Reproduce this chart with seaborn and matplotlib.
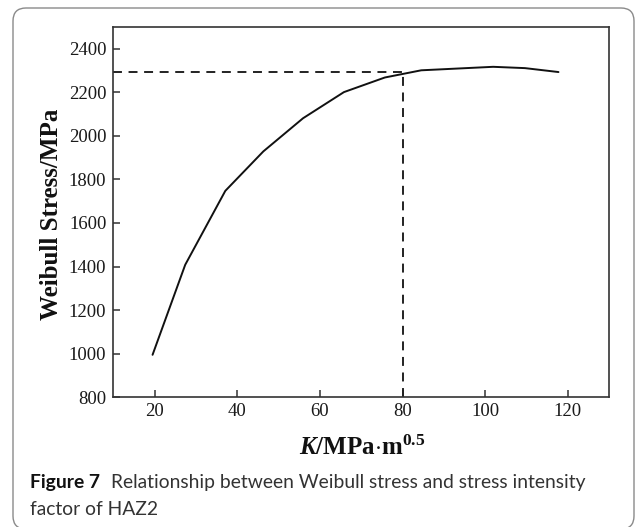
import matplotlib
matplotlib.use("Agg")
import matplotlib.pyplot as plt
import matplotlib.patches as mpatches
from matplotlib.transforms import IdentityTransform
import seaborn as sns
import pandas as pd

# Stress intensity factor K (MPa·m^0.5) and the resulting Weibull stress (MPa)
k_values = [19.5, 27.4, 37.1, 46.3, 55.9, 65.8, 75.7, 84.5, 101.9, 109.6, 117.7]
weibull_stress = [995, 1408, 1747, 1928, 2080, 2200, 2267, 2300, 2316, 2310, 2292]

# Critical point marked by the dashed guide lines
k_crit = 80
stress_crit = 2290

x_ticks = [20, 40, 60, 80, 100, 120]
y_ticks = [800, 1000, 1200, 1400, 1600, 1800, 2000, 2200, 2400]

caption_bold = "Figure 7"
caption_rest = "Relationship between Weibull stress and stress intensity"
caption_line2 = "factor of HAZ2"

sns.set_style("ticks")
plt.rcParams["font.family"] = ["Liberation Serif", "DejaVu Serif"]
plt.rcParams["mathtext.fontset"] = "custom"
plt.rcParams["mathtext.rm"] = "Liberation Serif:bold"
plt.rcParams["mathtext.bf"] = "Liberation Serif:bold"
plt.rcParams["mathtext.it"] = "Liberation Serif:bold:italic"

W, H, DPI = 637, 527, 100
fig = plt.figure(figsize=(W / DPI, H / DPI), dpi=DPI)
fig.patch.set_facecolor("white")

ax_l, ax_r, ax_t, ax_b = 113.3, 609.3, 26.7, 397.3
ax = fig.add_axes([ax_l / W, 1 - ax_b / H, (ax_r - ax_l) / W, (ax_b - ax_t) / H])

df = pd.DataFrame({"K": k_values, "stress": weibull_stress})
sns.lineplot(data=df, x="K", y="stress", color="#111111", linewidth=1.4, ax=ax)

dash = (0, (4.6, 3.4))
ax.plot([10, k_crit], [stress_crit, stress_crit], color="#222222", lw=1.4, linestyle=dash)
ax.plot([k_crit, k_crit], [800, stress_crit], color="#222222", lw=1.4, linestyle=dash)

ax.set_xlim(10, 130)
ax.set_ylim(800, 2500)
ax.set_xticks(x_ticks)
ax.set_yticks(y_ticks)

for side in ["left", "right", "top", "bottom"]:
    ax.spines[side].set_visible(True)
    ax.spines[side].set_color("#333333")
    ax.spines[side].set_linewidth(1.2)

ax.tick_params(axis="both", direction="in", length=5, width=1.1, color="#333333",
               labelsize=13.5, labelcolor="#1a1a1a")
ax.tick_params(axis="y", pad=5)
ax.tick_params(axis="x", pad=4)

ax.set_xlabel(r"$\mathit{K}\mathrm{/MPa{\cdot}m}^{0.5}$", fontsize=18, color="#111111")
ax.set_ylabel("Weibull Stress/MPa", fontsize=18, fontweight="bold", color="#111111")
ax.xaxis.label.set_va("baseline")
ax.yaxis.label.set_va("baseline")
ax.xaxis.set_label_coords((362 - ax_l) / (ax_r - ax_l), -(455 - ax_b) / (ax_b - ax_t))
ax.yaxis.set_label_coords(-(ax_l - 58.3) / (ax_r - ax_l), (ax_b - 214) / (ax_b - ax_t))

# Caption below the plot
cap_font = ["Lato", "DejaVu Sans"]
cap_size = 13.9
t1 = fig.text(30 / W, 1 - 488 / H, caption_bold, fontsize=cap_size, fontweight="bold",
              family=cap_font, color="#111111", va="baseline", ha="left")
fig.canvas.draw()
bb = t1.get_window_extent()
fig.text((bb.x1 + 11) / W, 1 - 488 / H, caption_rest, fontsize=cap_size,
         family=cap_font, color="#333333", va="baseline", ha="left")
fig.text(30 / W, 1 - 515 / H, caption_line2, fontsize=cap_size,
         family=cap_font, color="#333333", va="baseline", ha="left")

# Rounded frame around the whole figure
frame = mpatches.FancyBboxPatch((13, -2), 621, H - 8 + 2,
                                boxstyle="round,pad=0,rounding_size=13",
                                transform=IdentityTransform(), fill=False,
                                edgecolor="#8a8a8a", linewidth=1.0)
fig.patches.append(frame)

fig.savefig("out.png", dpi=DPI)
